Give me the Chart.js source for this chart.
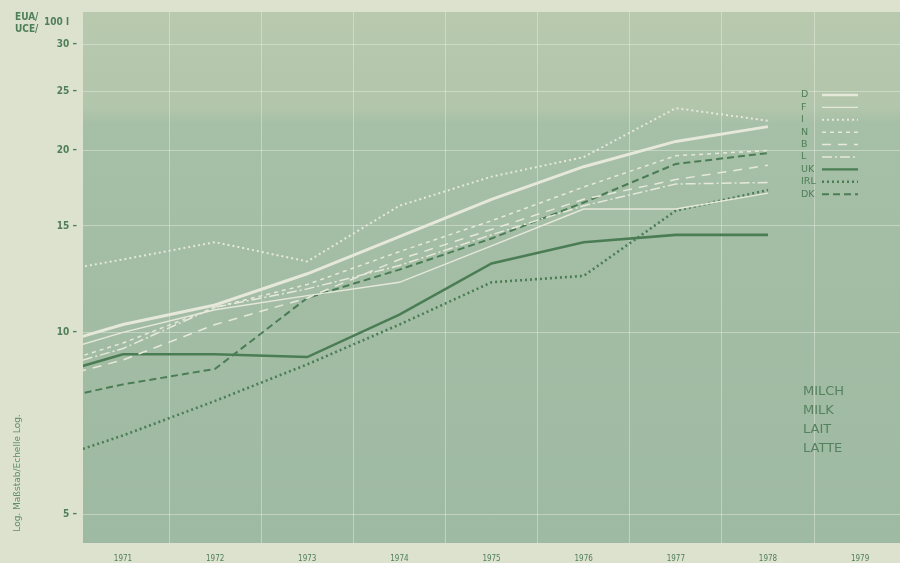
<!DOCTYPE html>
<html><head><meta charset="utf-8">
<script src="https://cdn.jsdelivr.net/npm/chart.js@4.4.1/dist/chart.umd.min.js"></script>
<style>html,body{margin:0;padding:0;background:#dde2cf;} canvas{display:block}</style>
</head><body>
<canvas id="c" width="900" height="563"></canvas>
<script>
// ---- data (EUA / 100 l) ----
const years = [1970, 1971, 1972, 1973, 1974, 1975, 1976, 1977, 1978];
const countries = ['D', 'F', 'I', 'N', 'B', 'L', 'UK', 'IRL', 'DK'];
const valD   = [9.3, 10.3, 11.1, 12.5, 14.4, 16.6, 18.8, 20.7, 21.9];
const valF   = [9.0, 10.0, 10.9, 11.5, 12.1, 13.9, 16.0, 16.0, 17.0];
const valI   = [12.4, 13.2, 14.1, 13.1, 16.2, 18.1, 19.5, 23.5, 22.4];
const valN   = [8.6, 9.6, 11.0, 12.0, 13.6, 15.3, 17.4, 19.6, 20.0];
const valB   = [8.2, 9.0, 10.3, 11.4, 13.2, 14.8, 16.6, 17.9, 18.9];
const valL   = [8.5, 9.4, 11.0, 11.8, 12.9, 14.5, 16.2, 17.6, 17.7];
const valUK  = [8.3, 9.2, 9.2, 9.1, 10.7, 13.0, 14.1, 14.5, 14.5];
const valIRL = [6.0, 6.75, 7.7, 8.85, 10.3, 12.1, 12.4, 15.9, 17.2];
const valDK  = [7.6, 8.2, 8.7, 11.4, 12.7, 14.3, 16.4, 19.0, 19.8];
const xTickLabels = ['1971','1972','1973','1974','1975','1976','1977','1978','1979'];
const xGridValues = [1971.5, 1972.5, 1973.5, 1974.5, 1975.5, 1976.5, 1977.5, 1978.5];
const yTickValues = [5, 10, 15, 20, 25, 30];
const productLabels = ['MILCH', 'MILK', 'LAIT', 'LATTE'];

const LIGHT = '#e6e8da';
const DARK = '#4b7d55';
const TEXT = '#4f7f59';

function pts(arr){ return years.map((y,i)=>({x:y, y:arr[i]})); }
const styles = [
  {data: valD,   color: LIGHT, width: 3,   dash: []},
  {data: valF,   color: LIGHT, width: 1.4, dash: []},
  {data: valI,   color: LIGHT, width: 2,   dash: [2,3]},
  {data: valN,   color: LIGHT, width: 1.5, dash: [4,4]},
  {data: valB,   color: LIGHT, width: 1.5, dash: [9,7]},
  {data: valL,   color: LIGHT, width: 1.5, dash: [10,3,2,3]},
  {data: valUK,  color: DARK,  width: 2.6, dash: []},
  {data: valIRL, color: DARK,  width: 2.6, dash: [2,3]},
  {data: valDK,  color: DARK,  width: 2,   dash: [7,4]},
];
const datasets = styles.map((s,i)=>({
  label: countries[i], data: pts(s.data), borderColor: s.color, borderWidth: s.width,
  borderDash: s.dash, pointRadius: 0, tension: 0, fill: false
}));

const xTickValues = xTickLabels.map(Number).concat(xGridValues).sort((a,b)=>a-b);
const GRID = 'rgba(236,240,226,0.45)';

const decor = {
  id: 'decor',
  beforeDraw(chart){
    const {ctx, chartArea:a} = chart;
    ctx.save();
    const g = ctx.createLinearGradient(0, a.top, 0, a.bottom);
    g.addColorStop(0, '#b8c9ae');
    g.addColorStop(0.18, '#b2c6ab');
    g.addColorStop(0.21, '#a6bfa7');
    g.addColorStop(1, '#9fbaa2');
    ctx.fillStyle = g;
    ctx.fillRect(a.left, a.top, a.right - a.left, a.bottom - a.top);
    ctx.restore();
  },
  afterDatasetsDraw(chart){
    const {ctx} = chart;
    ctx.save();
    ctx.font = '9.5px "DejaVu Sans"';
    ctx.textBaseline = 'middle';
    chart.data.datasets.forEach((ds, i)=>{
      const y = 95 + i * 12.4;
      ctx.fillStyle = TEXT;
      ctx.textAlign = 'left';
      ctx.fillText(ds.label, 801, y);
      ctx.beginPath();
      ctx.setLineDash(ds.borderDash);
      ctx.strokeStyle = ds.borderColor;
      ctx.lineWidth = Math.min(ds.borderWidth, 2.4);
      ctx.moveTo(822, y); ctx.lineTo(858, y);
      ctx.stroke();
    });
    ctx.setLineDash([]);
    ctx.font = '13px "DejaVu Sans"';
    ctx.fillStyle = '#55825e';
    productLabels.forEach((t,i)=> ctx.fillText(t, 803, 392 + i*19));
    ctx.restore();
  },
  afterDraw(chart){
    const {ctx} = chart;
    ctx.save();
    ctx.fillStyle = '#5f8d68';
    ctx.font = '9px "DejaVu Sans"';
    ctx.translate(18, 473);
    ctx.rotate(-Math.PI/2);
    ctx.textAlign = 'center';
    ctx.textBaseline = 'middle';
    ctx.fillText('Log. Maßstab/Echelle Log.', 0, 0);
    ctx.restore();
    ctx.save();
    ctx.fillStyle = TEXT;
    ctx.font = 'bold 10px "DejaVu Sans Condensed"';
    ctx.textBaseline = 'middle';
    ctx.fillText('EUA/', 15, 17);
    ctx.fillText('UCE/', 15, 29);
    ctx.fillText('100 l', 44, 22);
    ctx.restore();
  }
};

new Chart(document.getElementById('c'), {
  type: 'line',
  data: { datasets },
  options: {
    responsive: false, animation: false, devicePixelRatio: 1,
    layout: { padding: { top: 10, right: 0, left: 0, bottom: 0 } },
    plugins: { legend: { display: false }, tooltip: { enabled: false } },
    scales: {
      x: {
        type: 'linear', min: 1970.566, max: 1979.433,
        afterBuildTicks: s => { s.ticks = xTickValues.map(v=>({value:v})); },
        afterFit: s => { s.height = 20; },
        border: { display: false },
        grid: { drawTicks: false, lineWidth: 1,
          color: c => (c.tick && Number.isInteger(c.tick.value)) ? 'rgba(0,0,0,0)' : GRID },
        ticks: { autoSkip: false, maxRotation: 0, padding: 11, color: TEXT,
          font: { family: 'DejaVu Sans Condensed', size: 8 },
          callback: v => Number.isInteger(v) ? String(v) : '' }
      },
      y: {
        type: 'logarithmic', min: 4.48, max: 33.9,
        afterBuildTicks: s => { s.ticks = yTickValues.map(v=>({value:v})); },
        afterFit: s => { s.width = 83; },
        border: { display: false },
        grid: { drawTicks: false, color: GRID, lineWidth: 1 },
        ticks: { padding: 6, color: TEXT,
          font: { family: 'DejaVu Sans Condensed', size: 10, weight: 'bold' },
          callback: v => v + ' –' }
      }
    }
  },
  plugins: [decor]
});
</script>
</body></html>
